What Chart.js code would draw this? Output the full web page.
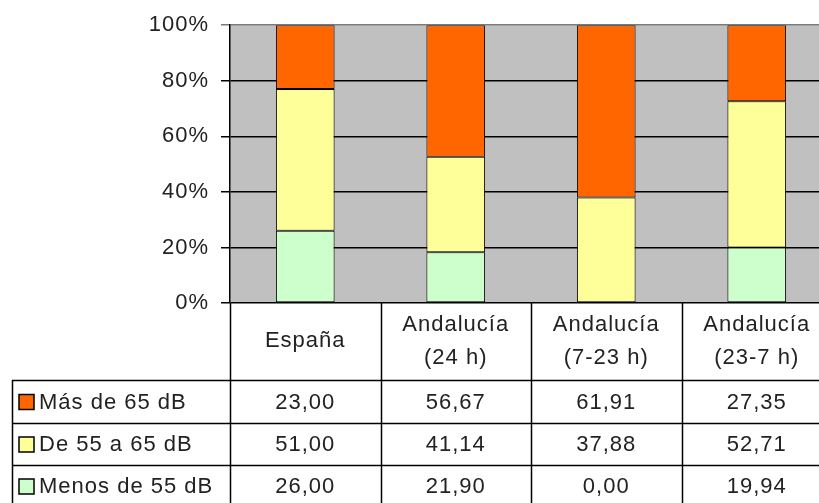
<!DOCTYPE html>
<html>
<head>
<meta charset="utf-8">
<script src="https://cdn.jsdelivr.net/npm/chart.js@4/dist/chart.umd.min.js"></script>
<style>
  html, body { margin: 0; padding: 0; overflow: hidden; background: #fff; }
  canvas { display: block; }
</style>
</head>
<body>
<canvas id="ruido" width="832" height="503"></canvas>
<script>
// categorias (cabecera de la tabla)
const categories = [['España'], ['Andalucía', '(24 h)'], ['Andalucía', '(7-23 h)'], ['Andalucía', '(23-7 h)']];
// series, % de poblacion
const masDe65 = [23.00, 56.67, 61.91, 27.35];
const de55a65 = [51.00, 41.14, 37.88, 52.71];
const menosDe55 = [26.00, 21.90, 0.00, 19.94];
const seriesNames = ['Más de 65 dB', 'De 55 a 65 dB', 'Menos de 55 dB'];
const seriesColors = ['#FF6600', '#FFFF99', '#CCFFCC'];

const FONT = '22px "Liberation Sans", Arial, sans-serif';
const TEXT = '#222';

// grafico 100% apilado
const totals = categories.map((c, i) => masDe65[i] + de55a65[i] + menosDe55[i]);
const pct = arr => arr.map((v, i) => v / totals[i] * 100);

const fmt = v => v.toFixed(2).replace('.', ',');

const bgPlugin = {
  id: 'plotBg',
  beforeDraw(chart) {
    const a = chart.chartArea;
    const ctx = chart.ctx;
    ctx.letterSpacing = '1px';
    ctx.save();
    ctx.fillStyle = '#C0C0C0';
    ctx.fillRect(a.left, a.top, a.right - a.left, a.bottom - a.top);
    ctx.restore();
  }
};

const tablePlugin = {
  id: 'dataTable',
  afterDraw(chart) {
    const ctx = chart.ctx;
    const a = chart.chartArea;
    const x = chart.scales.x;
    const colW = (a.right - a.left) / categories.length;
    const headBottom = 380;
    const rows = [380, 423, 465, 507];
    const tableLeft = 12;

    ctx.save();
    ctx.strokeStyle = '#000';
    ctx.lineWidth = 1.5;
    ctx.beginPath();
    // verticales
    for (let i = 0; i <= categories.length; i++) {
      const px = Math.round(a.left + i * colW) + 0.5;
      ctx.moveTo(px, a.bottom);
      ctx.lineTo(px, 503);
    }
    ctx.moveTo(tableLeft + 0.5, headBottom);
    ctx.lineTo(tableLeft + 0.5, 503);
    // horizontales
    for (let r = 0; r < 3; r++) {
      ctx.moveTo(tableLeft, rows[r] + 0.5);
      ctx.lineTo(a.right, rows[r] + 0.5);
    }
    ctx.stroke();

    ctx.font = FONT;
    ctx.fillStyle = TEXT;
    ctx.textAlign = 'center';
    ctx.textBaseline = 'middle';
    categories.forEach((lines, i) => {
      const cx = x.getPixelForValue(i);
      if (lines.length === 1) {
        ctx.fillText(lines[0], cx, 341);
      } else {
        ctx.fillText(lines[0], cx, 325);
        ctx.fillText(lines[1], cx, 358);
      }
    });

    const tableData = [masDe65, de55a65, menosDe55];
    tableData.forEach((arr, r) => {
      const cy = (rows[r] + rows[r + 1]) / 2 + 1;
      // leyenda
      ctx.fillStyle = seriesColors[r];
      ctx.fillRect(19, cy - 8, 15, 15);
      ctx.strokeStyle = '#000';
      ctx.lineWidth = 1.5;
      ctx.strokeRect(19, cy - 8, 15, 15);
      ctx.fillStyle = TEXT;
      ctx.textAlign = 'left';
      ctx.fillText(seriesNames[r], 39, cy);
      ctx.textAlign = 'center';
      arr.forEach((v, i) => {
        ctx.fillText(fmt(v), x.getPixelForValue(i), cy);
      });
    });
    ctx.restore();
  }
};

new Chart(document.getElementById('ruido'), {
  type: 'bar',
  data: {
    labels: categories.map(c => c.join(' ')),
    datasets: [
      { label: seriesNames[2], data: pct(menosDe55), backgroundColor: seriesColors[2] },
      { label: seriesNames[1], data: pct(de55a65), backgroundColor: seriesColors[1] },
      { label: seriesNames[0], data: pct(masDe65), backgroundColor: seriesColors[0] }
    ].map(d => Object.assign(d, {
      borderColor: '#000',
      borderWidth: 1,
      borderSkipped: false,
      barPercentage: 0.39,
      categoryPercentage: 1
    }))
  },
  options: {
    responsive: false,
    animation: false,
    layout: { padding: { left: 0, top: 21, right: 0, bottom: 200 } },
    plugins: {
      legend: { display: false },
      tooltip: { enabled: false }
    },
    scales: {
      x: {
        stacked: true,
        display: false
      },
      y: {
        stacked: true,
        min: 0,
        max: 100,
        afterFit(scale) { scale.width = 230; },
        ticks: {
          stepSize: 20,
          padding: 12,
          color: TEXT,
          font: { family: '"Liberation Sans", Arial, sans-serif', size: 22 },
          callback: v => v + '%'
        },
        grid: {
          color: ctx => ctx.tick && ctx.tick.value === 100 ? '#7a7a7a' : '#000',
          lineWidth: 1.5,
          tickLength: 9
        },
        border: { display: true, color: '#000', width: 1.5 }
      }
    }
  },
  plugins: [bgPlugin, tablePlugin]
});
</script>
</body>
</html>
